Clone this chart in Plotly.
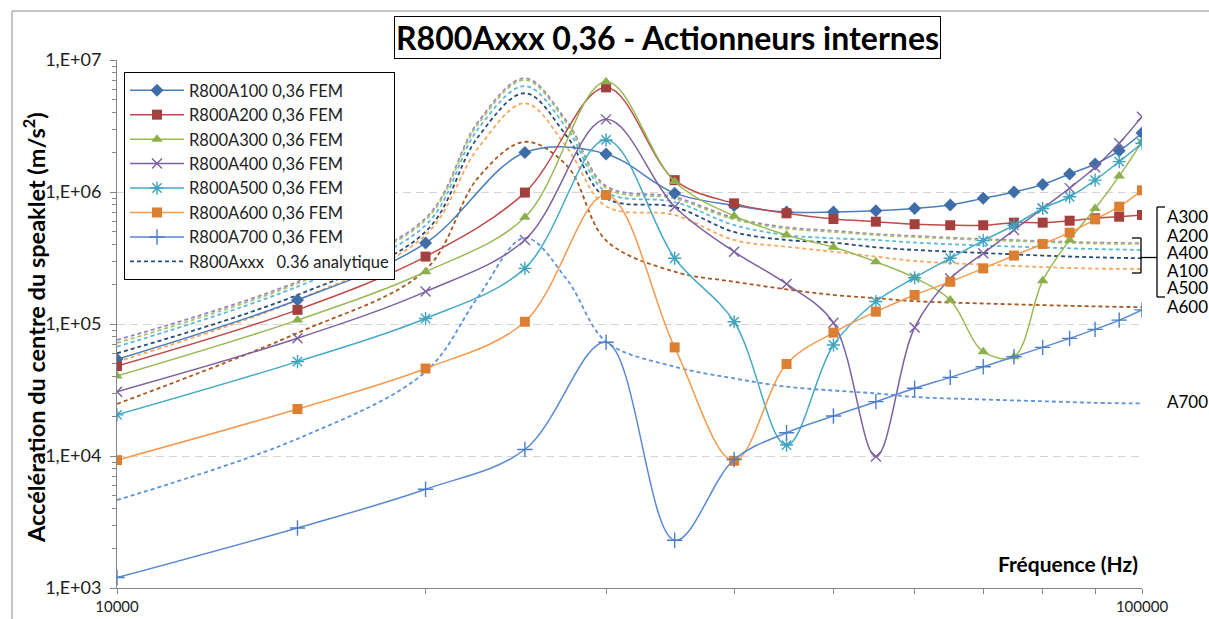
import plotly.graph_objects as go

# ---------------- data ----------------
freq = [10000, 15000, 20000, 25000, 30000, 35000, 40000, 45000, 50000, 55000,
        60000, 65000, 70000, 75000, 80000, 85000, 90000, 95000, 100000]

a100 = [5.4e4, 1.52e5, 4.1e5, 1.99e6, 1.94e6, 9.8e5, 7.9e5, 7.05e5, 7.05e5, 7.2e5,
        7.5e5, 7.97e5, 8.95e5, 1.0e6, 1.14e6, 1.37e6, 1.63e6, 2.05e6, 2.8e6]
a200 = [4.8e4, 1.28e5, 3.24e5, 9.9e5, 6.2e6, 1.23e6, 8.2e5, 6.9e5, 6.24e5, 5.96e5,
        5.7e5, 5.6e5, 5.6e5, 5.86e5, 5.86e5, 6.06e5, 6.32e5, 6.5e5, 6.7e5]
a300 = [4.04e4, 1.07e5, 2.49e5, 6.43e5, 6.85e6, 1.2e6, 6.58e5, 4.72e5, 3.81e5, 2.96e5,
        2.24e5, 1.52e5, 6.17e4, 5.65e4, 2.13e5, 4.33e5, 7.5e5, 1.32e6, 2.4e6]
a400 = [3.07e4, 7.8e4, 1.76e5, 4.33e5, 3.55e6, 7.74e5, 3.53e5, 2.01e5, 1.02e5, 9.9e3,
        9.4e4, 2.21e5, 3.43e5, 5.15e5, 7.5e5, 1.07e6, 1.54e6, 2.34e6, 3.72e6]
a500 = [2.05e4, 5.19e4, 1.1e5, 2.64e5, 2.48e6, 3.15e5, 1.04e5, 1.21e4, 6.93e4, 1.48e5,
        2.24e5, 3.15e5, 4.28e5, 5.6e5, 7.5e5, 9.2e5, 1.23e6, 1.7e6, 2.34e6]
a600 = [9.3e3, 2.27e4, 4.6e4, 1.04e5, 9.5e5, 6.65e4, 9.2e3, 4.98e4, 8.6e4, 1.24e5,
        1.66e5, 2.09e5, 2.64e5, 3.3e5, 4.04e5, 4.92e5, 6.2e5, 7.74e5, 1.03e6]
a700 = [1.2e3, 2.85e3, 5.6e3, 1.12e4, 7.27e4, 2.3e3, 9.4e3, 1.5e4, 2.01e4, 2.58e4,
        3.26e4, 3.94e4, 4.75e4, 5.65e4, 6.65e4, 7.78e4, 9.1e4, 1.07e5, 1.28e5]

ana_freq = [10000, 15000, 20000, 22500, 25000, 27500, 30000, 35000, 40000, 45000,
            50000, 55000, 60000, 70000, 80000, 90000, 100000]
ana_a300 = [7.57e4, 2.09e5, 6.32e5, 3.39e6, 7.27e6, 3.39e6, 1.11e6, 9.16e5, 6.36e5, 5.4e5,
            5.09e5, 4.8e5, 4.64e5, 4.4e5, 4.25e5, 4.14e5, 4.09e5]
ana_a200 = [7.18e4, 2.03e5, 6.14e5, 3.27e6, 7.05e6, 3.27e6, 1.07e6, 8.93e5, 6.19e5, 5.29e5,
            4.98e5, 4.72e5, 4.56e5, 4.33e5, 4.18e5, 4.07e5, 4.04e5]
ana_a400 = [6.73e4, 1.92e5, 5.6e5, 3.0e6, 6.35e6, 3.0e6, 1.0e6, 8.4e5, 5.62e5, 4.72e5,
            4.46e5, 4.33e5, 4.14e5, 3.93e5, 3.8e5, 3.7e5, 3.64e5]
ana_a100 = [6.0e4, 1.66e5, 5.0e5, 2.61e6, 5.6e6, 2.61e6, 9.0e5, 7.7e5, 4.98e5, 4.33e5,
            4.13e5, 3.81e5, 3.64e5, 3.45e5, 3.3e5, 3.2e5, 3.15e5]
ana_a500 = [5.18e4, 1.52e5, 4.72e5, 2.15e6, 4.7e6, 2.15e6, 7.8e5, 6.7e5, 4.33e5, 3.85e5,
            3.53e5, 3.24e5, 3.0e5, 2.82e5, 2.7e5, 2.63e5, 2.61e5]
ana_a600 = [2.48e4, 8.55e4, 2.57e5, 1.28e6, 2.4e6, 1.57e6, 4.3e5, 2.49e5, 2.09e5, 1.83e5,
            1.66e5, 1.57e5, 1.49e5, 1.43e5, 1.39e5, 1.36e5, 1.34e5]
ana_a700 = [4.64e3, 1.35e4, 4.35e4, 1.6e5, 4.49e5, 2.15e5, 7.35e4, 4.75e4, 3.87e4, 3.35e4,
            3.13e4, 2.98e4, 2.8e4, 2.68e4, 2.6e4, 2.53e4, 2.5e4]

fem_names = ["R800A100 0,36 FEM", "R800A200 0,36 FEM", "R800A300 0,36 FEM",
             "R800A400 0,36 FEM", "R800A500 0,36 FEM", "R800A600 0,36 FEM",
             "R800A700 0,36 FEM"]
ana_name = "R800Axxx\u00a0\u00a0\u00a00.36 analytique"
right_labels = ["A300", "A200", "A400", "A100", "A500", "A600", "A700"]
x_tick_vals = [10000, 100000]
x_tick_text = ["10000", "100000"]
y_tick_vals = [1e3, 1e4, 1e5, 1e6, 1e7]
y_tick_text = ["1,E+03", "1,E+04", "1,E+05", "1,E+06", "1,E+07"]
title_text = "R800Axxx 0,36 - Actionneurs internes"
y_title = "Accélération du centre du speaklet (m/s<sup>2</sup>)"
x_title = "Fréquence (Hz)"

FONT = "Lato"

# plot area in pixels
PL, PR, PT, PB = 117, 1142, 60, 588


def pp(px, py):
    return (px - PL) / (PR - PL), (PB - py) / (PB - PT)


fig = go.Figure()

# ---------------- analytic (dashed) ----------------
ana_series = [
    (ana_a300, "#9B82C4"),
    (ana_a200, "#A9C46E"),
    (ana_a400, "#5BBAD6"),
    (ana_a100, "#2C4D75"),
    (ana_a500, "#F9A862"),
    (ana_a600, "#A8581E"),
    (ana_a700, "#5E93D8"),
]
for vals, col in ana_series:
    fig.add_trace(go.Scatter(
        x=ana_freq, y=vals, mode="lines", name=ana_name,
        line=dict(color=col, width=1.8, dash="4px,3px", shape="spline", smoothing=1.0),
        showlegend=(col == "#2C4D75"), legendrank=1000, hoverinfo="skip"))

# ---------------- FEM series ----------------
fem_series = [
    (a100, "#4A7EBB", dict(symbol="diamond", size=10, color="#3E6DA8")),
    (a200, "#BE4B48", dict(symbol="square", size=10, color="#A3403D")),
    (a300, "#98B954", dict(symbol="triangle-up", size=10, color="#8BAF4A")),
    (a400, "#7D60A0", dict(symbol="x-thin", size=10, line=dict(color="#7D60A0", width=1.4))),
    (a500, "#46AAC5", dict(symbol="asterisk", size=11, line=dict(color="#3FA3BF", width=1.4))),
    (a600, "#F59A4E", dict(symbol="square", size=10, color="#DD7F33")),
    (a700, "#5A8AD2", dict(symbol="cross-thin", size=11, line=dict(color="#4A7EC8", width=1.4))),
]
for i, ((vals, col, mk), nm) in enumerate(zip(fem_series, fem_names)):
    fig.add_trace(go.Scatter(
        x=freq, y=vals, mode="lines+markers", name=nm,
        line=dict(color=col, width=1.5, shape="spline", smoothing=1.0),
        marker=mk, legendrank=i + 1))

# ---------------- axes ----------------
fig.update_xaxes(
    type="log", range=[4, 5], showline=True, linecolor="#868686", linewidth=1,
    ticks="outside", ticklen=5, tickcolor="#868686",
    tickmode="array", tickvals=x_tick_vals, ticktext=x_tick_text,
    minor=dict(tickmode="array", tickvals=[20000, 30000, 40000, 50000, 60000, 70000, 80000, 90000],
               ticks="outside", ticklen=5, tickcolor="#868686", showgrid=False),
    showgrid=False, zeroline=False,
    tickfont=dict(family=FONT, size=15, color="#222222"))

fig.update_yaxes(
    type="log", range=[3, 7], showline=True, linecolor="#868686", linewidth=1,
    ticks="outside", ticklen=6, tickcolor="#868686",
    tickmode="array", tickvals=y_tick_vals, ticktext=y_tick_text,
    ticklabelstandoff=5,
    minor=dict(tickmode="array",
               tickvals=[k * 10 ** n for n in range(3, 7) for k in range(2, 10)],
               ticks="outside", ticklen=4, tickcolor="#868686", showgrid=False),
    showgrid=True, gridcolor="#D4D4D4", griddash="8px,5px", gridwidth=1,
    zeroline=False,
    tickfont=dict(family=FONT, size=18, color="#222222"))

# ---------------- annotations ----------------
ann = []
tx, ty = pp(667, 37)
ann.append(dict(text="<b>" + title_text + "</b>", x=tx, y=ty, xref="paper", yref="paper",
                xanchor="center", yanchor="middle", showarrow=False,
                font=dict(family=FONT, size=32, color="#000000"),
                bordercolor="#000000", borderwidth=1, borderpad=1, bgcolor="#FFFFFF"))
yx, yy = pp(34, 328)
ann.append(dict(text="<b>" + y_title + "</b>", x=yx, y=yy, xref="paper", yref="paper",
                xanchor="center", yanchor="middle", showarrow=False, textangle=-90,
                font=dict(family=FONT, size=23.5, color="#000000")))
xx, xy = pp(1068, 563)
ann.append(dict(text="<b>" + x_title + "</b>", x=xx, y=xy, xref="paper", yref="paper",
                xanchor="center", yanchor="middle", showarrow=False,
                font=dict(family=FONT, size=21, color="#000000")))
label_py = [216.7, 235, 252.5, 270, 287.5, 306.7, 401.7]
for lab, py in zip(right_labels, label_py):
    lx, ly = pp(1165, py)
    ann.append(dict(text=lab, x=lx, y=ly, xref="paper", yref="paper",
                    xanchor="left", yanchor="middle", showarrow=False,
                    font=dict(family=FONT, size=17, color="#000000")))

# ---------------- shapes (border, brackets) ----------------
shapes = []
bx0, by1 = pp(12, 11)
shapes.append(dict(type="rect", xref="paper", yref="paper", x0=bx0, y0=-0.2, x1=1.3, y1=by1,
                   line=dict(color="#8C8C8C", width=1), layer="below"))


def seg(p1, p2):
    x0, y0 = pp(*p1)
    x1, y1 = pp(*p2)
    return dict(type="line", xref="paper", yref="paper", x0=x0, y0=y0, x1=x1, y1=y1,
                line=dict(color="#000000", width=1.3))


# small bracket
shapes += [seg((1132, 238), (1141, 238)), seg((1141, 238), (1141, 273)),
           seg((1132, 273), (1141, 273)), seg((1141, 257.5), (1157, 257.5))]
# big bracket
shapes += [seg((1165, 207), (1157, 207)), seg((1157, 207), (1157, 297)),
           seg((1157, 297), (1165, 297))]

lgx, lgy = pp(124, 72)
fig.update_layout(
    width=1209, height=619,
    margin=dict(l=PL, r=1209 - PR, t=PT, b=619 - PB, autoexpand=False),
    paper_bgcolor="#FFFFFF", plot_bgcolor="#FFFFFF",
    font=dict(family=FONT, size=15, color="#222222"),
    showlegend=True,
    legend=dict(x=lgx, y=lgy, xanchor="left", yanchor="top",
                bgcolor="#FFFFFF", bordercolor="#000000", borderwidth=1,
                font=dict(family=FONT, size=16.5, color="#222222"),
                itemwidth=54, traceorder="normal"),
    annotations=ann, shapes=shapes,
)

fig.write_html("out.html", config={"displayModeBar": False},
               post_script="document.body.style.margin='0';document.body.style.padding='0';")
